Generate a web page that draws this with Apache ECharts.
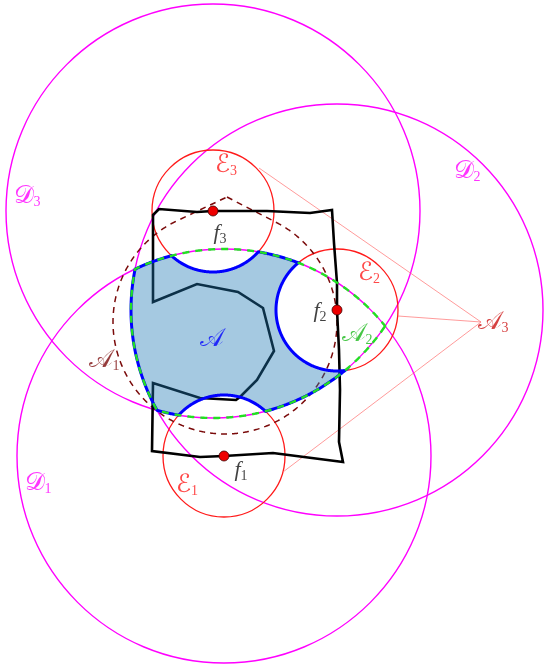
<!DOCTYPE html>
<html><head><meta charset="utf-8">
<script src="https://cdn.jsdelivr.net/npm/echarts@6/dist/echarts.min.js"></script>
<style>html,body{margin:0;padding:0;background:#fff}#c{width:553px;height:664px}</style>
</head><body><div id="c"></div>
<script>
// ---- data (diagram units = pixels of the reference) ----
const focusIndex = ['1', '2', '3'];
const focusX = [224, 337, 213];          // f1, f2, f3
const focusY = [456, 310, 211];
const bigRadius = [207, 206, 207];       // D1, D2, D3 (centred on f_i)
const smallRadius = [61, 61, 61];        // E1, E2, E3 (centred on f_i)
const a1Center = [225, 322];             // dashed region A1: disc plus a peak
const a1Radius = 112;
const a1Peak = [227, 197];
const a3Point = [481, 322];              // apex A3
const coneEndX = [283, 398, 259];        // where the thin lines from A3 meet E1, E2, E3
const coneEndY = [472, 316, 168];
const borderX = [153,159,197,213,267,310,332,334,337,337,339,340,339,343,273,224,200,152,153,200,236,240,257,274,263,238,197,153];
const borderY = [215,209,212,211,211,213,210,243,283,310,350,390,442,462,453,456,457,451,383,398,400,397,380,351,308,292,284,302];
const labelNames = ['D3','D2','D1','E3','E2','E1','f3','f2','f1','A','A2','A1','A3'];
const labelX = [27, 467, 38, 226, 369, 187, 220, 320, 241, 212, 357, 104, 493];
const labelY = [196, 171, 483, 165, 273, 485, 233, 311, 470, 339, 334, 360, 322];

// ---- geometry helpers ----
function circlePts(cx, cy, r, n) {
  const p = [];
  for (let i = 0; i < n; i++) { const t = 2 * Math.PI * i / n; p.push([cx + r * Math.cos(t), cy + r * Math.sin(t)]); }
  return p;
}
function clipConvex(subject, clipPoly) {
  let out = subject;
  for (let i = 0; i < clipPoly.length && out.length; i++) {
    const a = clipPoly[i], b = clipPoly[(i + 1) % clipPoly.length];
    const side = p => (b[0] - a[0]) * (p[1] - a[1]) - (b[1] - a[1]) * (p[0] - a[0]);
    const inp = out; out = [];
    let s = inp[inp.length - 1];
    for (const e of inp) {
      const ds = side(s), de = side(e);
      if (de >= 0) {
        if (ds < 0) { const t = ds / (ds - de); out.push([s[0] + t * (e[0] - s[0]), s[1] + t * (e[1] - s[1])]); }
        out.push(e);
      } else if (ds >= 0) { const t = ds / (ds - de); out.push([s[0] + t * (e[0] - s[0]), s[1] + t * (e[1] - s[1])]); }
      s = e;
    }
  }
  return out;
}
function pointInPoly(pt, poly) {
  let inside = false;
  for (let i = 0, j = poly.length - 1; i < poly.length; j = i++) {
    const xi = poly[i][0], yi = poly[i][1], xj = poly[j][0], yj = poly[j][1];
    if (((yi > pt[1]) !== (yj > pt[1])) && (pt[0] < (xj - xi) * (pt[1] - yi) / (yj - yi) + xi)) inside = !inside;
  }
  return inside;
}
function subtractDisc(poly, c, r) {
  const n = poly.length;
  const inside = poly.map(p => Math.hypot(p[0] - c[0], p[1] - c[1]) < r);
  let s = -1;
  for (let i = 0; i < n; i++) if (inside[i] && !inside[(i - 1 + n) % n]) { s = i; break; }
  if (s < 0) return poly;
  let e = s; while (inside[(e + 1) % n]) e = (e + 1) % n;
  const segInt = (p, q) => {
    const dx = q[0] - p[0], dy = q[1] - p[1], fx = p[0] - c[0], fy = p[1] - c[1];
    const A = dx * dx + dy * dy, B = 2 * (fx * dx + fy * dy), C = fx * fx + fy * fy - r * r;
    const disc = Math.sqrt(Math.max(0, B * B - 4 * A * C));
    const t1 = (-B - disc) / (2 * A), t2 = (-B + disc) / (2 * A);
    const t = (t1 >= 0 && t1 <= 1) ? t1 : t2;
    return [p[0] + t * dx, p[1] + t * dy];
  };
  const pin = segInt(poly[(s - 1 + n) % n], poly[s]);
  const pout = segInt(poly[e], poly[(e + 1) % n]);
  const a0 = Math.atan2(pin[1] - c[1], pin[0] - c[0]);
  const a1 = Math.atan2(pout[1] - c[1], pout[0] - c[0]);
  const dPos = (((a1 - a0) % (2 * Math.PI)) + 2 * Math.PI) % (2 * Math.PI);
  const mid = [c[0] + r * Math.cos(a0 + dPos / 2), c[1] + r * Math.sin(a0 + dPos / 2)];
  const sweep = pointInPoly(mid, poly) ? dPos : dPos - 2 * Math.PI;
  const steps = Math.max(8, Math.ceil(Math.abs(sweep) / (Math.PI / 360)));
  const res = [];
  let i = (e + 1) % n;
  while (i !== s) { res.push(poly[i]); i = (i + 1) % n; }
  for (let k = 0; k <= steps; k++) { const t = a0 + sweep * k / steps; res.push([c[0] + r * Math.cos(t), c[1] + r * Math.sin(t)]); }
  return res;
}
// convex hull of a disc and an outside point (teardrop)
function teardrop(c, r, peak) {
  const dx = peak[0] - c[0], dy = peak[1] - c[1], d = Math.hypot(dx, dy);
  const base = Math.atan2(dy, dx), half = Math.acos(r / d);
  const pts = [peak];
  const span = 2 * Math.PI - 2 * half, steps = 720;
  for (let k = 0; k <= steps; k++) { const t = base + half + span * k / steps; pts.push([c[0] + r * Math.cos(t), c[1] + r * Math.sin(t)]); }
  return pts;
}

// lens = D1 ∩ D2 ∩ D3 ; region A = lens minus E1, E2, E3
const N = 1440;
const dPolys = focusX.map((x, i) => circlePts(x, focusY[i], bigRadius[i], N));
const lens = clipConvex(clipConvex(dPolys[0], dPolys[1]), dPolys[2]);
let regionA = lens;
for (let i = 2; i >= 0; i--) regionA = subtractDisc(regionA, [focusX[i], focusY[i]], smallRadius[i]);
const a1Shape = teardrop(a1Center, a1Radius, a1Peak);

// ---- chart ----
const circleRows = [];
focusX.forEach((x, i) => circleRows.push([x, focusY[i], bigRadius[i], 0]));
focusX.forEach((x, i) => circleRows.push([x, focusY[i], smallRadius[i], 1]));
const circleStyles = [
  { stroke: '#ff00ff', lineWidth: 1.4 },
  { stroke: '#ff1a1a', lineWidth: 1.3 }
];

function polyItem(points, style) {
  return function (params, api) {
    const pts = points.map(p => api.coord(p));
    return { type: 'polygon', shape: { points: pts }, style: style };
  };
}

const coneRows = coneEndX.map((x, i) => [a3Point[0], a3Point[1], x, coneEndY[i]]);
const borderPts = borderX.map((x, i) => [x, borderY[i]]);

const SCRIPT = "'DejaVu Serif','DejaVu Sans','Noto Sans',serif";
const labelColors = { D: '#ff00ff', E: '#ff1a1a', f: '#111111', A: '#0000ff', A1: '#7a0a0a', A2: '#18b818', A3: '#cc1010' };
const glyph = { D: '\u{1D49F}', E: '\u2130', A: '\u{1D49C}', f: 'f' };
const rich = {};
const labelData = labelNames.map((name, i) => {
  const letter = name[0], sub = name.slice(1);
  const col = name[0] === 'A' && sub ? labelColors['A' + sub] : labelColors[letter];
  const isF = letter === 'f';
  rich['m' + i] = { color: col, fontSize: isF ? 22 : 25, fontFamily: isF ? "'Liberation Serif',serif" : SCRIPT, fontStyle: isF ? 'italic' : 'normal', lineHeight: 26 };
  rich['s' + i] = { color: col, fontSize: 14, fontFamily: "'Liberation Serif',serif", verticalAlign: 'bottom', lineHeight: 20 };
  return { value: [labelX[i], labelY[i]], label: { formatter: '{m' + i + '|' + glyph[letter] + '}' + (sub ? '{s' + i + '|' + sub + '}' : '') } };
});

const option = {
  animation: false,
  grid: { left: 0, right: 0, top: 0, bottom: 0 },
  xAxis: { type: 'value', min: 0, max: 553, show: false },
  yAxis: { type: 'value', min: 0, max: 664, inverse: true, show: false },
  series: [
    { type: 'custom', z: 1, silent: true, clip: false, data: circleRows,
      renderItem: (params, api) => {
        const c = api.coord([api.value(0), api.value(1)]);
        const s = api.size([api.value(2), api.value(2)]);
        const st = circleStyles[api.value(3)];
        return { type: 'ellipse', shape: { cx: c[0], cy: c[1], rx: s[0], ry: s[1] },
          style: Object.assign({ fill: 'none' }, st) };
      } },
    { type: 'custom', z: 1, silent: true, clip: false, data: [[0]],
      renderItem: polyItem(a1Shape, { fill: 'none', stroke: '#7a0a0a', lineWidth: 1.5, lineDash: [6, 5] }) },
    { type: 'custom', z: 2, silent: true, clip: false, data: coneRows,
      renderItem: (params, api) => {
        const p1 = api.coord([api.value(0), api.value(1)]), p2 = api.coord([api.value(2), api.value(3)]);
        return { type: 'line', shape: { x1: p1[0], y1: p1[1], x2: p2[0], y2: p2[1] }, style: { stroke: '#ff7070', lineWidth: 0.7 } };
      } },
    { type: 'custom', z: 3, silent: true, clip: false, data: [[0]],
      renderItem: polyItem(borderPts, { fill: 'none', stroke: '#000', lineWidth: 2.6, lineJoin: 'miter' }) },
    { type: 'custom', z: 4, silent: true, clip: false, data: [[0]],
      renderItem: polyItem(regionA, { fill: 'rgba(31,119,180,0.4)', stroke: '#0000ff', lineWidth: 3 }) },
    { type: 'custom', z: 5, silent: true, clip: false, data: [[0]],
      renderItem: polyItem(lens, { fill: 'none', stroke: '#22e022', lineWidth: 2.4, lineDash: [7, 6] }) },
    { type: 'scatter', z: 6, silent: true, symbol: 'circle', symbolSize: 10,
      data: focusX.map((x, i) => [x, focusY[i]]),
      itemStyle: { color: '#ee0000', borderColor: '#400000', borderWidth: 0.8, opacity: 1 } },
    { type: 'scatter', z: 7, silent: true, symbolSize: 0, data: labelData,
      label: { show: true, position: 'inside', rich: rich } }
  ]
};
echarts.init(document.getElementById('c')).setOption(option);
</script></body></html>
